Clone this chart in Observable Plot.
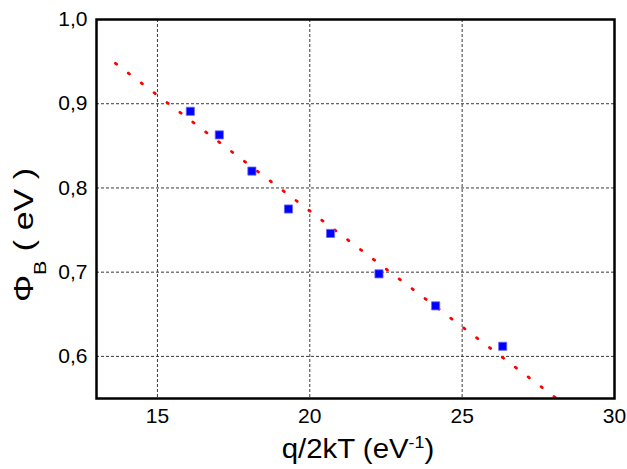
<!DOCTYPE html>
<html>
<head>
<meta charset="utf-8">
<script src="https://cdn.jsdelivr.net/npm/d3@7"></script>
<script src="https://cdn.jsdelivr.net/npm/@observablehq/plot@0.6"></script>
<style>
  html, body { margin: 0; padding: 0; background: white; }
  #chart svg { display: block; }
</style>
</head>
<body>
<div id="chart"></div>
<script>
// Measured points
const xValues = [16.08, 17.03, 18.10, 19.30, 20.68, 22.27, 24.13, 26.33];
const yValues = [0.891, 0.863, 0.820, 0.775, 0.746, 0.698, 0.660, 0.612];
// Fit line endpoints
const fitX = [13.62, 28.28];
const fitY = [0.948, 0.545];
// Ticks
const xTicks = [15, 20, 25, 30];
const yTicks = [0.6, 0.7, 0.8, 0.9, 1.0];
const xGrid = [15, 20, 25];
const yGrid = [0.6, 0.7, 0.8, 0.9];

const points = xValues.map((x, i) => ({x, y: yValues[i]}));
const fit = fitX.map((x, i) => ({x, y: fitY[i]}));
const fmt = d => d.toFixed(1).replace(".", ",");

const chart = Plot.plot({
  width: 627,
  height: 469,
  marginLeft: 96,
  marginRight: 13,
  marginTop: 19,
  marginBottom: 71,
  style: {fontFamily: "'Liberation Sans', Arial, sans-serif", fontSize: "21px", background: "white", color: "black"},
  x: {domain: [13, 30]},
  y: {domain: [0.55, 1.0]},
  marks: [
    Plot.gridX(xGrid, {stroke: "#3a3a3a", strokeOpacity: 1, strokeWidth: 1, strokeDasharray: "3,2"}),
    Plot.gridY(yGrid, {stroke: "#3a3a3a", strokeOpacity: 1, strokeWidth: 1, strokeDasharray: "3,2"}),
    Plot.axisX({ticks: xTicks, tickSize: 0, tickPadding: 10, tickFormat: d => String(d), label: null, fontSize: 21}),
    Plot.axisY({ticks: yTicks, tickSize: 0, tickPadding: 9, tickFormat: fmt, label: null, fontSize: 21}),
    Plot.line(fit, {x: "x", y: "y", stroke: "red", strokeWidth: 2.8, strokeDasharray: "1.5,14.7", strokeLinecap: "round", clip: true}),
    Plot.dot(points, {x: "x", y: "y", symbol: "square", r: 4.6, fill: "#0000ff", stroke: "#6a6aff", strokeWidth: 0.8}),
    Plot.frame({stroke: "black", strokeWidth: 2.5})
  ]
});

document.getElementById("chart").appendChild(chart);

const svg = d3.select(chart);
// X axis title
const xt = svg.append("text")
  .attr("transform", "translate(358,458) scale(1.05,1)")
  .attr("text-anchor", "middle")
  .attr("font-family", "'Liberation Sans', Arial, sans-serif")
  .attr("font-size", 28)
  .attr("fill", "black");
xt.append("tspan").text("q/2kT (eV");
xt.append("tspan").attr("font-size", 17).attr("dy", -10).text("-1");
xt.append("tspan").attr("dy", 10).text(")");

// Y axis title
const yt = svg.append("text")
  .attr("transform", "translate(33,235) rotate(-90) scale(1.26,1)")
  .attr("text-anchor", "middle")
  .attr("font-family", "'Liberation Sans', Arial, sans-serif")
  .attr("font-size", 27)
  .attr("fill", "black");
yt.append("tspan").text("Φ");
yt.append("tspan").attr("font-size", 17).attr("dy", 13).text("B");
yt.append("tspan").attr("dy", -13).attr("xml:space", "preserve").text(" ( eV )");
</script>
</body>
</html>
